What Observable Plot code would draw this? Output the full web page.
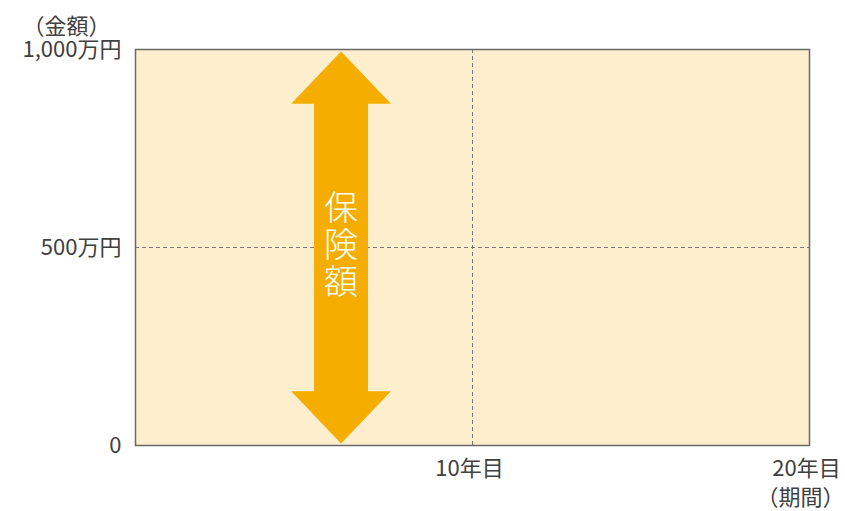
<!DOCTYPE html>
<html><head><meta charset="utf-8">
<script src="https://cdn.jsdelivr.net/npm/d3@7"></script>
<script src="https://cdn.jsdelivr.net/npm/@observablehq/plot@0.6"></script>
<style>
body{margin:0;background:#fff;font-family:"Noto Sans CJK JP","Noto Sans",sans-serif;}
</style></head>
<body><div id="chart"></div>
<script>
const yTicks = [0, 500, 1000];
const yTickLabels = ["0", "500万円", "1,000万円"];
const xTicks = [10, 20];
const xTickLabels = ["10年目", "20年目"];
const yAxisTitle = "（金額）";
const xAxisTitle = "（期間）";
const arrowLabel = "保険額";
const arrowX = 6.1;          // years
const arrowFrom = 5;         // 万円
const arrowTo = 995;         // 万円
const coverage = 1000;       // 保険額 (万円)

// arrow shape (double-headed), built from the values above
const shaftHalf = 0.8, headHalf = 1.48, headLen = 132;
const arrowPts = [
  [arrowX, arrowTo],
  [arrowX + headHalf, arrowTo - headLen],
  [arrowX + shaftHalf, arrowTo - headLen],
  [arrowX + shaftHalf, arrowFrom + headLen],
  [arrowX + headHalf, arrowFrom + headLen],
  [arrowX, arrowFrom],
  [arrowX - headHalf, arrowFrom + headLen],
  [arrowX - shaftHalf, arrowFrom + headLen],
  [arrowX - shaftHalf, arrowTo - headLen],
  [arrowX - headHalf, arrowTo - headLen],
  [arrowX, arrowTo]
];

const textColor = "#404040";
const fs = 22;
const chart = Plot.plot({
  width: 845,
  height: 511,
  marginLeft: 135,
  marginRight: 36,
  marginTop: 49,
  marginBottom: 66,
  style: {fontFamily: '"Noto Sans CJK JP","Noto Sans",sans-serif', fontSize: fs + "px", color: textColor, background: "white"},
  x: {domain: [0, 20], label: null},
  y: {domain: [0, coverage], label: null},
  marks: [
    Plot.frame({fill: "#FDEECD", stroke: "none"}),
    Plot.ruleX([10], {stroke: "#7a7a7a", strokeDasharray: "4,3", strokeWidth: 1}),
    Plot.ruleY([500], {stroke: "#7a7a7a", strokeDasharray: "4,3", strokeWidth: 1}),
    Plot.line(arrowPts, {x: d => d[0], y: d => d[1], fill: "#F5AE00", stroke: "none"}),
    Plot.text([arrowLabel], {x: arrowX, y: coverage / 2, text: d => d, fill: "white", fontSize: 34, fontWeight: 300, textAnchor: "middle"}),
    Plot.frame({stroke: "#6a6a6a", strokeWidth: 1.5}),
    Plot.axisX({ticks: xTicks, tickSize: 0, tickPadding: 15, tickFormat: d => xTickLabels[xTicks.indexOf(d)], dx: -3, fontSize: fs, fill: textColor}),
    Plot.axisY({ticks: yTicks, tickSize: 0, tickPadding: 14, tickFormat: d => yTickLabels[yTicks.indexOf(d)], fontSize: fs, fill: textColor}),
    Plot.text([yAxisTitle], {frameAnchor: "top-left", dx: -69, dy: -31, textAnchor: "middle", fontSize: fs, fill: textColor}),
    Plot.text([xAxisTitle], {frameAnchor: "bottom-right", dx: 35, dy: 59, textAnchor: "end", fontSize: fs, fill: textColor})
  ]
});
// vertical writing for the arrow label
d3.select(chart).selectAll("text").filter(function() { return this.textContent === arrowLabel; })
  .attr("writing-mode", "vertical-rl")
  .attr("dy", null)
  .attr("dx", null)
  .attr("y", -2)
  .style("letter-spacing", "3px")
  .style("dominant-baseline", "central");
document.getElementById("chart").appendChild(chart);
</script></body></html>
